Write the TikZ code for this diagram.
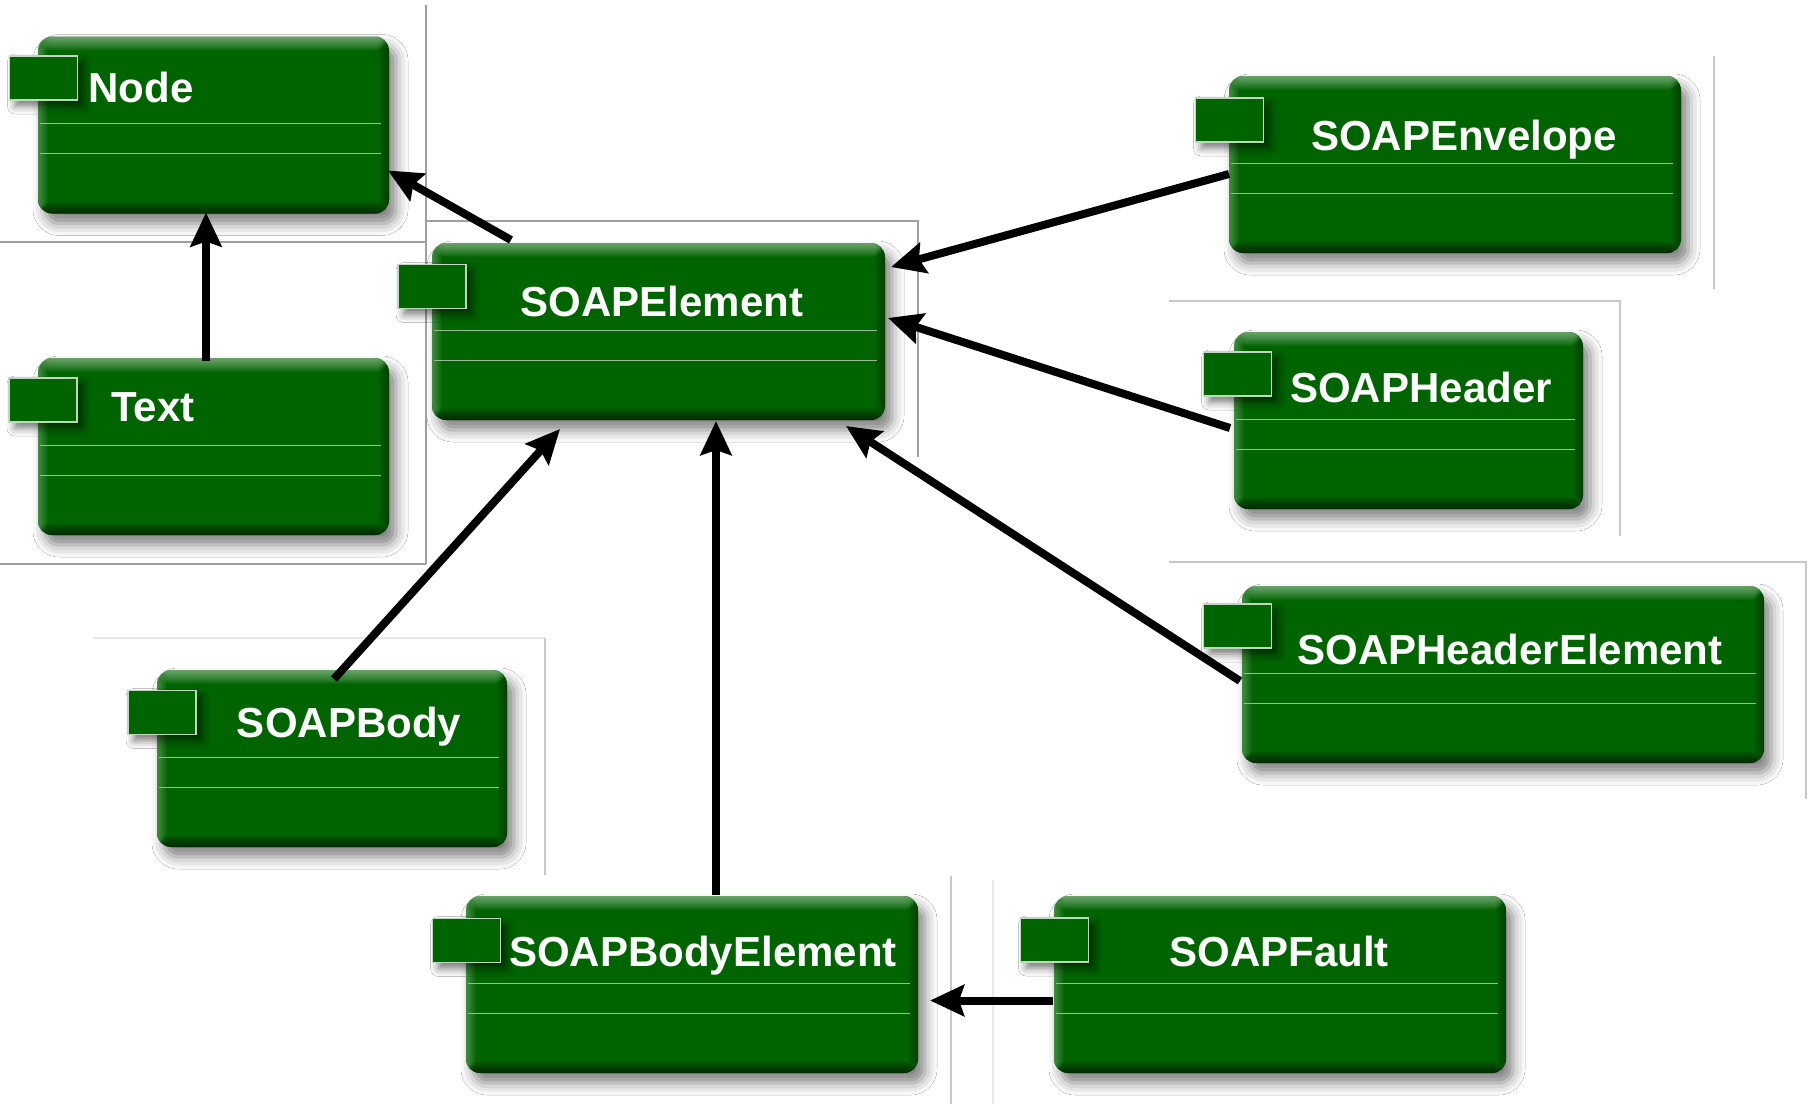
\documentclass[tikz,border=0pt]{standalone}
\usepackage{fontspec}
\setmainfont{Liberation Sans}
\usetikzlibrary{arrows.meta,calc,shadows.blur}

\definecolor{boxgreen}{RGB}{0,100,0}
\definecolor{tabedge}{RGB}{190,215,190}
\definecolor{sepline}{RGB}{150,190,150}
\definecolor{framegray}{RGB}{160,160,160}
\definecolor{framelight}{RGB}{200,200,200}
\definecolor{framefaint}{RGB}{232,232,232}

\tikzset{
  % bevelled class box with two compartment lines
  classbox/.style={
    rectangle, rounded corners=14pt, fill=boxgreen,
    minimum height=177pt, inner sep=0pt, outer sep=0pt,
    blur shadow={shadow xshift=7pt, shadow yshift=-10pt,
                 shadow blur radius=12pt, shadow opacity=50},
    path picture={
      \foreach \i in {1,...,14}
        \fill[white,opacity=0.04] (path picture bounding box.north west)
          rectangle ([yshift=-\i pt]path picture bounding box.north east);
      \foreach \i in {1,...,10}
        \fill[white,opacity=0.03] (path picture bounding box.north west)
          rectangle ([xshift=\i pt]path picture bounding box.south west);
      \foreach \i in {1,...,12}
        \fill[black,opacity=0.055] (path picture bounding box.south west)
          rectangle ([yshift=\i pt]path picture bounding box.south east);
      \foreach \i in {1,...,10}
        \fill[black,opacity=0.035] (path picture bounding box.north east)
          rectangle ([xshift=-\i pt]path picture bounding box.south east);
      \draw[sepline, line width=1pt]
        ([xshift=2pt,yshift=-87pt]path picture bounding box.north west) --
        ([xshift=-8pt,yshift=-87pt]path picture bounding box.north east);
      \draw[sepline, line width=1pt]
        ([xshift=2pt,yshift=-117pt]path picture bounding box.north west) --
        ([xshift=-8pt,yshift=-117pt]path picture bounding box.north east);
    }
  },
  classtab/.style={
    rectangle, fill=boxgreen, draw=tabedge, line width=1.5pt,
    minimum width=68pt, minimum height=44pt, inner sep=0pt, outer sep=0pt,
    blur shadow={shadow xshift=6pt, shadow yshift=-6pt,
                 shadow blur radius=8pt, shadow opacity=55}
  },
  classname/.style={
    text=white, inner sep=0pt, anchor=base,
    font=\fontsize{42pt}{50pt}\selectfont\bfseries
  },
  inherits/.style={
    draw=black, line width=8pt,
    -{Stealth[length=34pt,width=31pt,inset=5pt]}
  },
  frameline/.style={framegray, line width=1.2pt},
}

\begin{document}
\begin{tikzpicture}[x=1pt,y=-1pt]
  \fill[white] (0,0) rectangle (1815,1104);
  \useasboundingbox (0,0) rectangle (1815,1104);

  % thin frame lines around the class boxes
  \draw[frameline] (426,5) -- (426,564);
  \draw[frameline] (0,242) -- (426,242);
  \draw[frameline] (0,564) -- (426,564);
  \draw[frameline] (426,221) -- (918,221) -- (918,457);
  \draw[framelight, line width=1.2pt] (1714,56) -- (1714,289);
  \draw[framelight, line width=1.2pt] (1169,301) -- (1620,301) -- (1620,536);
  \draw[framelight, line width=1.2pt] (1169,562) -- (1806,562) -- (1806,799);
  \draw[framefaint, line width=1.2pt] (93,638) -- (545,638);
  \draw[framelight, line width=1.2pt] (545,638) -- (545,875);
  \draw[framelight, line width=1.2pt] (951,876) -- (951,1104);
  \draw[framefaint, line width=1.2pt] (993,880) -- (993,1104);

  % class boxes
  \node[classbox, minimum width=351pt] (nodebox)  at (213.5,125)   {};
  \node[classbox, minimum width=351pt] (textbox)  at (213.5,446.5) {};
  \node[classbox, minimum width=453pt] (soapel)   at (658.5,331.5) {};
  \node[classbox, minimum width=452pt] (env)      at (1455,164.5)  {};
  \node[classbox, minimum width=349pt] (hdr)      at (1408.5,420.5){};
  \node[classbox, minimum width=522pt] (hdrel)    at (1503,674.5)  {};
  \node[classbox, minimum width=350pt] (body)     at (332,758.5)   {};
  \node[classbox, minimum width=452pt] (bodyel)   at (692,984.5)   {};
  \node[classbox, minimum width=452pt] (fault)    at (1280,984.5)  {};

  % class tabs
  \node[classtab] (nodetab)   at (43.5,78)    {};
  \node[classtab] (texttab)   at (43,400)     {};
  \node[classtab] (soapeltab) at (432,286.5)  {};
  \node[classtab] (envtab)    at (1229.5,120) {};
  \node[classtab] (hdrtab)    at (1237.5,374) {};
  \node[classtab] (hdreltab)  at (1237.5,626) {};
  \node[classtab] (bodytab)   at (162,712.5)  {};
  \node[classtab] (bodyeltab) at (466.5,940.5){};
  \node[classtab] (faulttab)  at (1054.5,940) {};

  % class names
  \node[classname] (nodename)   at (141,102)  {Node};
  \node[classname] (textname)   at (153,421)  {Text};
  \node[classname] (soapelname) at (662,316)  {SOAPElement};
  \node[classname] (envname)    at (1464,150) {SOAPEnvelope};
  \node[classname] (hdrname)    at (1421,402) {SOAPHeader};
  \node[classname] (hdrelname)  at (1510,664) {SOAPHeaderElement};
  \node[classname] (bodyname)   at (349,737)  {SOAPBody};
  \node[classname] (bodyelname) at (703,966)  {SOAPBodyElement};
  \node[classname] (faultname)  at (1279,966) {SOAPFault};

  % inheritance arrows
  \draw[inherits] ($(soapel.north west)+(79,-3)$) -- ($(nodebox.north east)+(-1,134)$);
  \draw[inherits] ($(textbox.north)+(-7.5,3)$) -- ($(nodebox.south)+(-7.5,-1)$);
  \draw[inherits] ($(env.north west)+(0,98)$) -- ($(soapel.north east)+(6,24)$);
  \draw[inherits] ($(hdr.north west)+(-4,96)$) -- ($(soapel.north east)+(3,75)$);
  \draw[inherits] ($(hdrel.north west)+(-2,95)$) -- ($(soapel.south east)+(-39,6)$);
  \draw[inherits] ($(body.north west)+(177,9)$) -- ($(soapel.south west)+(128,9)$);
  \draw[inherits] ($(bodyel.north west)+(250,-1)$) -- ($(soapel.south west)+(284,1)$);
  \draw[inherits] ($(fault.west)+(-1,16)$) -- ($(bodyel.east)+(12,16)$);
\end{tikzpicture}
\end{document}
